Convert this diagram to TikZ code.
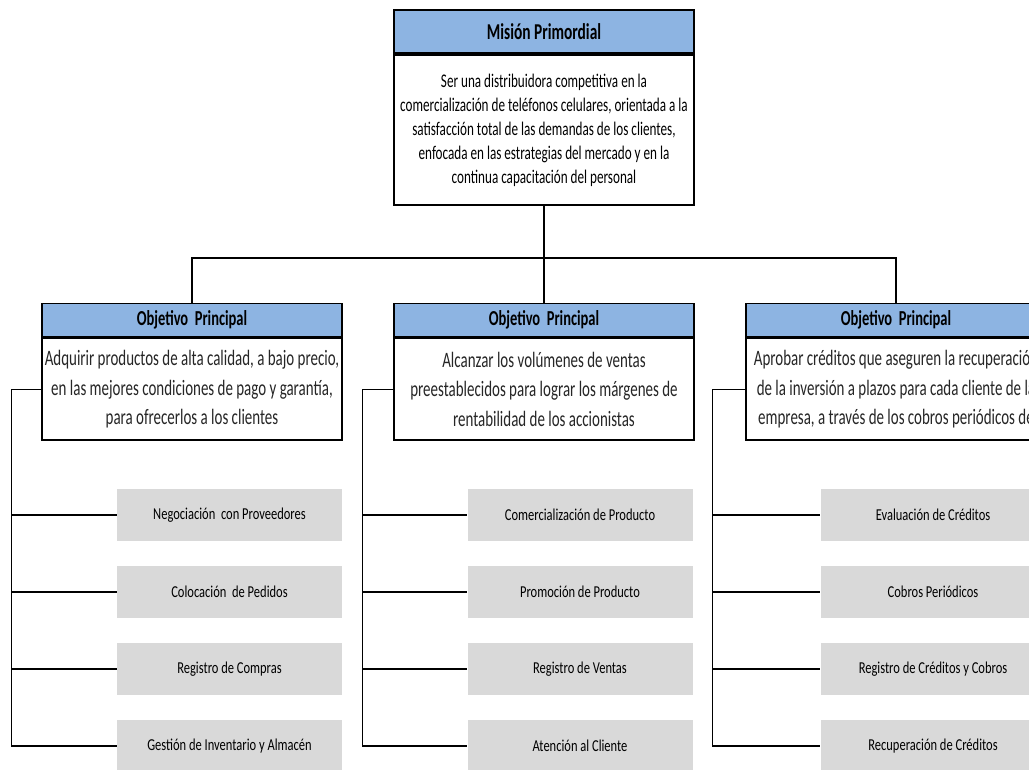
\documentclass[tikz,border=0pt]{standalone}
\usepackage{fontspec}
\setmainfont{Carlito}
\newfontfamily\narrowfont[FakeStretch=0.68]{Carlito}
\newfontfamily\taskfont[FakeStretch=0.75]{Carlito}
\usetikzlibrary{positioning}
\definecolor{headblue}{RGB}{141,180,226}
\definecolor{taskgray}{RGB}{217,217,217}

\begin{document}
\begin{tikzpicture}[x=0.75pt, y=-0.75pt, node distance=57.75pt, on grid,
    mhead/.style={draw, fill=headblue, line width=1.5pt, anchor=north, inner sep=0pt,
        minimum width=225pt, minimum height=32.25pt,
        font=\narrowfont\bfseries\fontsize{17}{19}\selectfont},
    mbody/.style={draw, fill=white, line width=1.5pt, anchor=north, inner sep=0pt, align=center,
        minimum width=225pt, minimum height=112.5pt,
        font=\narrowfont\fontsize{14.5}{18}\selectfont},
    ohead/.style={draw, fill=headblue, line width=1.1pt, anchor=north, inner sep=0pt,
        minimum width=225pt, minimum height=24.75pt,
        font=\narrowfont\bfseries\fontsize{16}{18}\selectfont},
    obody/.style={draw, fill=white, line width=1.1pt, anchor=north, inner sep=0pt, align=center,
        minimum width=225pt, minimum height=76.5pt, text=black!85,
        font=\narrowfont\fontsize{16.5}{22}\selectfont},
    task/.style={fill=taskgray, inner sep=0pt, minimum width=168.75pt, minimum height=39pt,
        font=\taskfont\fontsize{12.5}{14}\selectfont},
    conn/.style={line width=1pt},
    heavy/.style={line width=1.9pt}]
    \useasboundingbox (0,0) rectangle (1029,769);
    \clip (0,0) rectangle (1029,769);

    \node[mhead] (mh) at (544,9) {Misión Primordial};
    \node[mbody] (mb) at (mh.south) {Ser una distribuidora competitiva en la\\
        comercialización de teléfonos celulares, orientada a la\\
        satisfacción total de las demandas de los clientes,\\
        enfocada en las estrategias del mercado y en la\\
        continua capacitación del personal};

    \node[ohead] (oh1) at (192,303) {Objetivo~~Principal};
    \node[obody] (ob1) at (oh1.south) {Adquirir productos de alta calidad, a bajo precio,\\
        en las mejores condiciones de pago y garantía,\\
        para ofrecerlos a los clientes};
    \node[ohead] (oh2) at (544,303) {Objetivo~~Principal};
    \node[obody] (ob2) at (oh2.south) {Alcanzar los volúmenes de ventas\\
        preestablecidos para lograr los márgenes de\\
        rentabilidad de los accionistas};
    \node[ohead] (oh3) at (896,303) {Objetivo~~Principal};
    \node[obody] (ob3) at (oh3.south) {Aprobar créditos que aseguren la recuperación\\
        de la inversión a plazos para cada cliente de la\\
        empresa, a través de los cobros periódicos de};

    \node[task] (g11) at (229.5,515) {Negociación~~con Proveedores};
    \node[task] (g12) [below=of g11] {Colocación~~de Pedidos};
    \node[task] (g13) [below=of g12] {Registro de Compras};
    \node[task] (g14) [below=of g13] {Gestión de Inventario y Almacén};
    \node[task] (g21) at (580,515) {Comercialización de Producto};
    \node[task] (g22) [below=of g21] {Promoción de Producto};
    \node[task] (g23) [below=of g22] {Registro de Ventas};
    \node[task] (g24) [below=of g23] {Atención al Cliente};
    \node[task] (g31) at (933,515) {Evaluación de Créditos};
    \node[task] (g32) [below=of g31] {Cobros Periódicos};
    \node[task] (g33) [below=of g32] {Registro de Créditos y Cobros};
    \node[task] (g34) [below=of g33] {Recuperación de Créditos};

    \coordinate (bus) at (544,258);
    \coordinate (t1) at ([xshift=-22.5pt]ob1.west);
    \coordinate (t2) at ([xshift=-23pt]ob2.west);
    \coordinate (t3) at ([xshift=-24.5pt]ob3.west);

    \draw[conn] (mb.south) -- (bus);
    \draw[conn] (oh1.north) |- (bus) -| (oh3.north);
    \draw[conn] (bus) -- (oh2.north);

    \draw[conn] (ob1.west) -- (t1) |- (g14.west);
    \draw[conn] (t1) |- (g11.west) (t1) |- (g12.west);
    \draw[heavy] (g13.west -| t1) -- (g13.west);
    \draw[conn] (ob2.west) -- (t2) |- (g24.west);
    \draw[conn] (t2) |- (g21.west) (t2) |- (g22.west);
    \draw[heavy] (g23.west -| t2) -- (g23.west);
    \draw[conn] (ob3.west) -- (t3) |- (g34.west);
    \draw[conn] (t3) |- (g31.west) (t3) |- (g32.west);
    \draw[heavy] (g33.west -| t3) -- (g33.west);
\end{tikzpicture}
\end{document}
